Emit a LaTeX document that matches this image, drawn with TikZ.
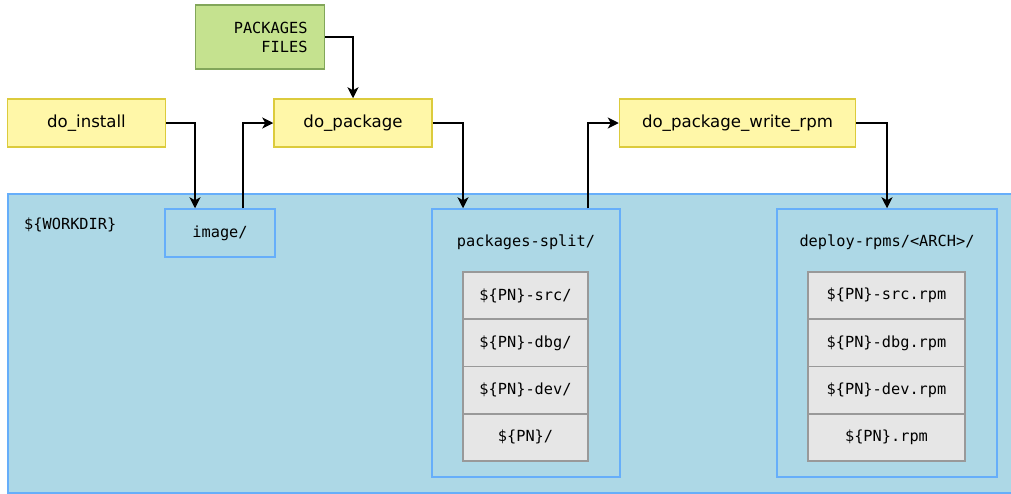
\documentclass[tikz,border=0pt]{standalone}
\usepackage{fontspec}
\setmainfont{DejaVu Sans}
\setmonofont{DejaVu Sans Mono}
\usetikzlibrary{arrows.meta}
\definecolor{yfill}{HTML}{FFF7A8}
\definecolor{ydraw}{HTML}{DCCB3C}
\definecolor{gfill}{HTML}{C5E28F}
\definecolor{gdraw}{HTML}{82A65A}
\definecolor{bfill}{HTML}{ADD8E6}
\definecolor{bdraw}{HTML}{66AEFA}
\definecolor{rfill}{HTML}{E6E6E6}
\definecolor{rdraw}{HTML}{999999}
\tikzset{
  task/.style={draw=ydraw, fill=yfill, line width=1.5pt, minimum height=48pt, inner sep=0pt,
    font=\fontsize{16.6}{20}\selectfont},
  files/.style={draw=gdraw, fill=gfill, line width=1.5pt, minimum height=64pt, inner ysep=0pt,
    inner xsep=17pt, text width=95pt, align=right, font=\ttfamily\fontsize{15.3}{19}\selectfont},
  dirbox/.style={draw=bdraw, fill=bfill, line width=1.5pt, inner sep=0pt},
  rowbox/.style={draw=rdraw, fill=rfill, line width=1.5pt, minimum height=47.25pt, inner sep=0pt,
    font=\ttfamily\fontsize{15.3}{18}\selectfont},
  mono/.style={font=\ttfamily\fontsize{15.3}{18}\selectfont, inner sep=0pt},
  arr/.style={draw=black, line width=1.4pt, -{Stealth[length=11pt,width=11pt,inset=3pt]}}
}
\begin{document}
\begin{tikzpicture}[x=1pt,y=-1pt]
\useasboundingbox (0,0) rectangle (1011,493);
% background workdir
\node[dirbox, minimum width=1005pt, minimum height=299pt, anchor=north west] (workdir) at (7,193) {};
\node[mono, anchor=west] (wlabel) at (24,225) {\$\{WORKDIR\}};
% top nodes
\node[files] (pf) at (260,37) {PACKAGES\\FILES};
\node[task, minimum width=158pt] (inst) at (86.5,123) {do\_install};
\node[task, minimum width=158pt] (pkg) at (353,123) {do\_package};
\node[task, minimum width=236pt] (wrpm) at (737.5,123) {do\_package\_write\_rpm};
% image
\node[dirbox, mono, minimum width=110pt, minimum height=48pt] (image) at (220,233) {image/};
% packages-split
\node[dirbox, minimum width=188pt, minimum height=268pt] (split) at (526,343) {};
\node[mono] (splitlbl) at (526,242) {packages-split/};
\node[rowbox, minimum width=125pt] (s1) at (525.5,295.6) {\$\{PN\}-src/};
\node[rowbox, minimum width=125pt] (s2) at (525.5,342.9) {\$\{PN\}-dbg/};
\node[rowbox, minimum width=125pt] (s3) at (525.5,390.1) {\$\{PN\}-dev/};
\node[rowbox, minimum width=125pt] (s4) at (525.5,437.4) {\$\{PN\}/};
% deploy
\node[dirbox, minimum width=220pt, minimum height=268pt] (deploy) at (887,343) {};
\node[mono] (deploylbl) at (887,242) {deploy-rpms/<ARCH>/};
\node[rowbox, minimum width=157pt] (r1) at (886.5,295.6) {\$\{PN\}-src.rpm};
\node[rowbox, minimum width=157pt] (r2) at (886.5,342.9) {\$\{PN\}-dbg.rpm};
\node[rowbox, minimum width=157pt] (r3) at (886.5,390.1) {\$\{PN\}-dev.rpm};
\node[rowbox, minimum width=157pt] (r4) at (886.5,437.4) {\$\{PN\}.rpm};
% connectors
\draw[arr] (inst.east) -| ([xshift=-25pt]image.north);
\draw[arr] ([xshift=23pt]image.north) |- (pkg.west);
\draw[arr] (pf.east) -| (pkg.north);
\draw[arr] (pkg.east) -| ([xshift=-63pt]split.north);
\draw[arr] ([xshift=62pt]split.north) |- (wrpm.west);
\draw[arr] (wrpm.east) -| (deploy.north);
\end{tikzpicture}
\end{document}
